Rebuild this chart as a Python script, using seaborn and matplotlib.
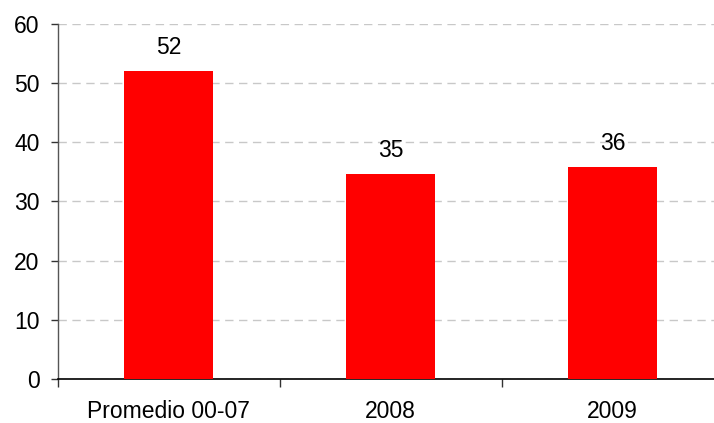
import matplotlib
matplotlib.use("Agg")
import matplotlib.pyplot as plt
import seaborn as sns
import pandas as pd
from matplotlib.ticker import FixedLocator

categories = ["Promedio 00-07", "2008", "2009"]
values = [52.0, 34.7, 35.8]
yticks = [0, 10, 20, 30, 40, 50, 60]

sns.set_style("white")
plt.rcParams['font.family'] = ['Liberation Sans', 'DejaVu Sans']
plt.rcParams['text.color'] = 'black'
plt.rcParams['xtick.color'] = 'black'
plt.rcParams['ytick.color'] = 'black'

df = pd.DataFrame({"cat": categories, "val": values})

fig = plt.figure(figsize=(7.14, 4.23), dpi=100)
ax = fig.add_axes([57.8/714, 1 - 379/423, 1 - 57.8/714, (379 - 24)/423])

sns.barplot(data=df, x="cat", y="val", color="#ff0000", saturation=1,
            width=0.40, ax=ax, zorder=3, linewidth=0)

ax.set_ylim(0, 60)
ax.set_yticks(yticks)
ax.set_xlim(-0.5, 2.456)
ax.yaxis.grid(True, color="#c8c8c8", linestyle=(0, (6, 4)), linewidth=1, zorder=0)
ax.xaxis.grid(False)
ax.set_xlabel("")
ax.set_ylabel("")

for sp in ["top", "right"]:
    ax.spines[sp].set_visible(False)
ax.spines["left"].set_color("#555555")
ax.spines["left"].set_linewidth(1)
ax.spines["bottom"].set_color("#000000")
ax.spines["bottom"].set_linewidth(1.2)

ax.tick_params(axis="y", which="major", direction="out", length=5, width=1,
               color="#333333", labelsize=16.5, pad=8, left=True)
ax.tick_params(axis="x", which="major", length=0, labelsize=16.5, pad=15)
ax.xaxis.set_minor_locator(FixedLocator([-0.5, 0.5, 1.5]))
ax.tick_params(axis="x", which="minor", direction="out", length=5.5, width=1,
               color="#333333", bottom=True)

for i, v in enumerate(values):
    ax.text(i, v + 4.0, f"{v:.0f}", ha="center", va="center", fontsize=16.5)

fig.savefig("out.png", dpi=100)
